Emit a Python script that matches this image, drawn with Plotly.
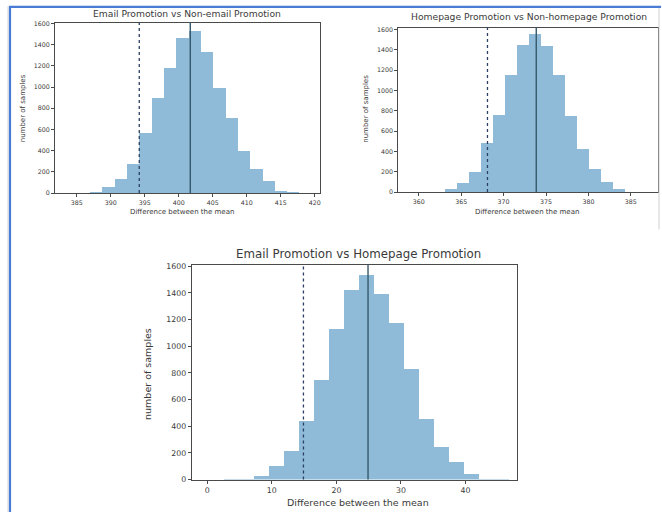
import numpy as np
import plotly.graph_objects as go

W, H = 662, 517

titles = ["Email Promotion vs Non-email Promotion",
          "Homepage Promotion vs Non-homepage Promotion",
          "Email Promotion vs Homepage Promotion"]
x_label = "Difference between the mean"
y_label = "number of samples"

# histogram bin range, 20 bins each
bins1 = (383.35, 419.55)
bins2 = (358.95, 387.15)
bins3 = (0.29, 46.69)

counts1 = [1, 3, 15, 58, 132, 272, 568, 895, 1185, 1470, 1532, 1335, 995, 707, 398, 227, 120, 25, 10, 2]
counts2 = [1, 1, 8, 35, 93, 201, 489, 766, 1153, 1456, 1559, 1446, 1153, 756, 430, 228, 99, 35, 8, 2]
counts3 = [0, 1, 8, 30, 102, 212, 440, 748, 1128, 1426, 1532, 1390, 1176, 832, 458, 245, 133, 44, 8, 2]

# vertical reference lines: dotted (lower bound), solid (observed)
dotted_x = [394.2, 368.1, 14.9]
solid_x = [401.7, 373.85, 24.9]

x_ticks = [[385, 390, 395, 400, 405, 410, 415, 420],
           [360, 365, 370, 375, 380, 385],
           [0, 10, 20, 30, 40]]
y_ticks = [0, 200, 400, 600, 800, 1000, 1200, 1400, 1600]

x_ranges = [[381.8, 420.7], [357.6, 388.2], [-2.4, 48.0]]
y_ranges = [[0, 1607], [0, 1620], [0, 1610]]

# layout in pixels: left, right, top, bottom
boxes = [(55, 320, 20, 193), (399, 659, 25, 192), (192, 518, 266, 484)]
tick_font = [6.3, 6.3, 7.8]
lab_font = [7.0, 7.0, 9.5]
title_font = [9.2, 9.2, 11.8]
title_pos = [(187, 11), (530, 14), (359, 255)]
xlab_pos = [(182, 212), (528, 212.5), (359, 507)]
ylab_pos = [(23, 107), (367, 107), (147, 377)]

bar_color = "rgba(31,119,180,0.5)"
text_color = "#3a3a3a"

fig = go.Figure()
all_counts = [counts1, counts2, counts3]
all_bins = [bins1, bins2, bins3]
shapes = []
annotations = []

def px(x):
    return x / W

def py(y):
    return 1 - y / H

for i in range(3):
    edges = np.linspace(all_bins[i][0], all_bins[i][1], len(all_counts[i]) + 1)
    centers = (edges[:-1] + edges[1:]) / 2
    widths = np.diff(edges)
    sfx = "" if i == 0 else str(i + 1)
    fig.add_trace(go.Bar(x=centers, y=all_counts[i], width=widths,
                         marker=dict(color=bar_color, line=dict(width=0)),
                         xaxis="x" + sfx, yaxis="y" + sfx, showlegend=False))
    l, r, t, b = boxes[i]
    axis_common = dict(showline=True, mirror=True, linecolor="#4a4a4a", linewidth=1,
                       ticks="outside", ticklen=3, tickcolor="#4a4a4a", tickwidth=1,
                       showgrid=False, zeroline=False,
                       tickfont=dict(size=tick_font[i], color=text_color,
                                     family="DejaVu Sans"))
    fig.update_layout(**{
        "xaxis" + sfx: dict(domain=[px(l), px(r)], range=x_ranges[i],
                            tickvals=x_ticks[i], anchor="y" + sfx, **axis_common),
        "yaxis" + sfx: dict(domain=[py(b), py(t)], range=y_ranges[i],
                            tickvals=y_ticks, anchor="x" + sfx, **axis_common),
    })
    xr = "x" + sfx
    yd = "y" + sfx + " domain"
    shapes.append(dict(type="line", xref=xr, yref=yd, x0=dotted_x[i], x1=dotted_x[i],
                       y0=0, y1=1, line=dict(color="#2b3f63", width=1.3, dash="dot")))
    shapes.append(dict(type="line", xref=xr, yref=yd, x0=solid_x[i], x1=solid_x[i],
                       y0=0, y1=1, line=dict(color="#35596b", width=1.4)))
    annotations.append(dict(text=titles[i], x=px(title_pos[i][0]), y=py(title_pos[i][1]),
                            xref="paper", yref="paper", showarrow=False,
                            xanchor="center", yanchor="middle",
                            font=dict(size=title_font[i], color=text_color, family="DejaVu Sans")))
    annotations.append(dict(text=x_label, x=px(xlab_pos[i][0]), y=py(xlab_pos[i][1]),
                            xref="paper", yref="paper", showarrow=False,
                            xanchor="center", yanchor="middle",
                            font=dict(size=lab_font[i], color=text_color, family="DejaVu Sans")))
    annotations.append(dict(text=y_label, x=px(ylab_pos[i][0]), y=py(ylab_pos[i][1]),
                            xref="paper", yref="paper", showarrow=False, textangle=-90,
                            xanchor="center", yanchor="middle",
                            font=dict(size=lab_font[i], color=text_color, family="DejaVu Sans")))

# page frame
shapes.append(dict(type="line", xref="paper", yref="paper", x0=px(8), x1=px(8), y0=0, y1=py(3),
                   line=dict(color="#d4d4d4", width=1)))
shapes.append(dict(type="line", xref="paper", yref="paper", x0=px(10), x1=px(10), y0=0, y1=py(4),
                   line=dict(color="#4a7bd4", width=2.2)))
shapes.append(dict(type="line", xref="paper", yref="paper", x0=px(9), x1=1, y0=py(4), y1=py(4),
                   line=dict(color="#4a7bd4", width=2.2)))
shapes.append(dict(type="line", xref="paper", yref="paper", x0=px(660), x1=px(660), y0=py(230), y1=py(5),
                   line=dict(color="#cfcfcf", width=1)))

fig.update_layout(width=W, height=H, margin=dict(l=0, r=0, t=0, b=0),
                  paper_bgcolor="white", plot_bgcolor="white", bargap=0,
                  shapes=shapes, annotations=annotations)

fig.write_html("out.html")
